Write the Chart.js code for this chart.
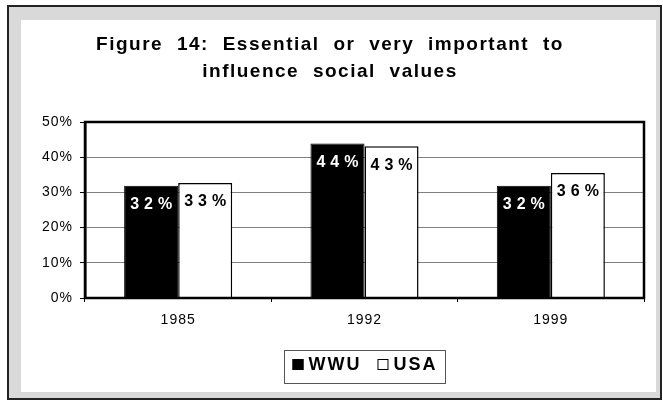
<!DOCTYPE html>
<html>
<head>
<meta charset="utf-8">
<script src="https://cdn.jsdelivr.net/npm/chart.js@4"></script>
<style>
  body { margin: 0; background: #fff; }
  #frame {
    position: absolute; left: 7px; top: 5px; width: 655px; height: 395px;
    box-sizing: border-box; border: 2px solid #222; background: #d9d9d9;
  }
  #panel { position: absolute; left: 21px; top: 20px; width: 635px; height: 372px; background: #fff; }
</style>
</head>
<body>
<div id="frame"></div>
<div id="panel"><canvas id="chart" width="635" height="372"></canvas></div>
<script>
// values
var years = ['1985', '1992', '1999'];
var wwuValues = [31.9, 43.9, 31.9];
var usaValues = [32.7, 43.1, 35.5];
var titleLines = ['Figure 14: Essential or very important to', 'influence social values'];
var FONT = "'Liberation Sans', Arial, sans-serif";

// title, drawn by hand to get the wide spacing
var titlePlugin = {
  id: 'figTitle',
  afterDraw: function (chart) {
    var ctx = chart.ctx;
    ctx.save();
    ctx.font = 'bold 19px ' + FONT;
    ctx.letterSpacing = '1.5px';
    ctx.wordSpacing = '7px';
    ctx.fillStyle = '#000';
    ctx.textAlign = 'center';
    ctx.textBaseline = 'middle';
    ctx.fillText(titleLines[0], 309, 25);
    ctx.fillText(titleLines[1], 309, 52);
    ctx.restore();
  }
};

// plot box + value labels
var labelPlugin = {
  id: 'barLabels',
  beforeDraw: function (chart) {
    chart.ctx.letterSpacing = '1px';
  },
  afterDatasetsDraw: function (chart) {
    var ctx = chart.ctx;
    var a = chart.chartArea;
    ctx.save();
    ctx.strokeStyle = '#000';
    ctx.lineWidth = 2.5;
    ctx.strokeRect(a.left, a.top, a.right - a.left, a.bottom - a.top);
    ctx.font = 'bold 16px ' + FONT;
    ctx.letterSpacing = '5px';
    ctx.textAlign = 'center';
    ctx.textBaseline = 'top';
    chart.data.datasets.forEach(function (ds, i) {
      ctx.fillStyle = i === 0 ? '#fff' : '#000';
      chart.getDatasetMeta(i).data.forEach(function (bar, j) {
        ctx.fillText(Math.round(ds.data[j]) + '%', bar.x + 2.5, bar.y + 11);
      });
    });
    ctx.restore();
  }
};

// boxed legend under the plot
var legendPlugin = {
  id: 'boxLegend',
  afterDraw: function (chart) {
    var ctx = chart.ctx;
    var a = chart.chartArea;
    ctx.save();
    ctx.font = 'bold 18px ' + FONT;
    ctx.letterSpacing = '2px';
    var items = chart.data.datasets;
    var sq = 11, gap = 5, between = 16, pad = 8;
    var total = 0;
    items.forEach(function (ds, i) {
      total += sq + gap + ctx.measureText(ds.label).width;
      if (i < items.length - 1) total += between;
    });
    var boxW = total + pad * 2;
    var cx = (a.left + a.right) / 2;
    var bx = Math.round(cx - boxW / 2) + 0.5, by = 330.5, bh = 33;
    ctx.strokeStyle = '#555';
    ctx.lineWidth = 1;
    ctx.strokeRect(bx, by, boxW, bh);
    var x = bx + pad;
    ctx.textBaseline = 'alphabetic';
    ctx.textAlign = 'left';
    items.forEach(function (ds) {
      ctx.fillStyle = ds.backgroundColor;
      ctx.fillRect(x, 339, sq, sq);
      ctx.strokeStyle = '#000';
      ctx.strokeRect(x + 0.5, 339.5, sq - 1, sq - 1);
      x += sq + gap;
      ctx.fillStyle = '#000';
      ctx.fillText(ds.label, x, 350);
      x += ctx.measureText(ds.label).width + between;
    });
    ctx.restore();
  }
};

new Chart(document.getElementById('chart'), {
  type: 'bar',
  data: {
    labels: years,
    datasets: [
      { label: 'WWU', data: wwuValues, backgroundColor: '#000', borderColor: '#000', borderWidth: 1 },
      { label: 'USA', data: usaValues, backgroundColor: '#fff', borderColor: '#000', borderWidth: 1.5 }
    ]
  },
  options: {
    responsive: false,
    animation: false,
    devicePixelRatio: 1,
    categoryPercentage: 0.58,
    barPercentage: 1.0,
    layout: { padding: { top: 102, right: 12, left: 0, bottom: 0 } },
    plugins: { legend: { display: false }, title: { display: false }, tooltip: { enabled: false } },
    scales: {
      x: {
        grid: { offset: true, drawOnChartArea: false, drawTicks: true, tickLength: 4, color: '#000' },
        border: { display: false },
        ticks: { color: '#000', font: { family: FONT, size: 14 }, padding: 10 },
        afterFit: function (s) { s.height = 94; }
      },
      y: {
        min: 0, max: 50,
        ticks: {
          stepSize: 10, color: '#000', padding: 7,
          font: { family: FONT, size: 14 },
          callback: function (v) { return v + '%'; }
        },
        grid: { color: '#808080', lineWidth: 1, tickColor: '#000', tickLength: 5 },
        border: { color: '#000', width: 2.5 },
        afterFit: function (s) { s.width = 64; }
      }
    }
  },
  plugins: [labelPlugin, titlePlugin, legendPlugin]
});
</script>
</body>
</html>
